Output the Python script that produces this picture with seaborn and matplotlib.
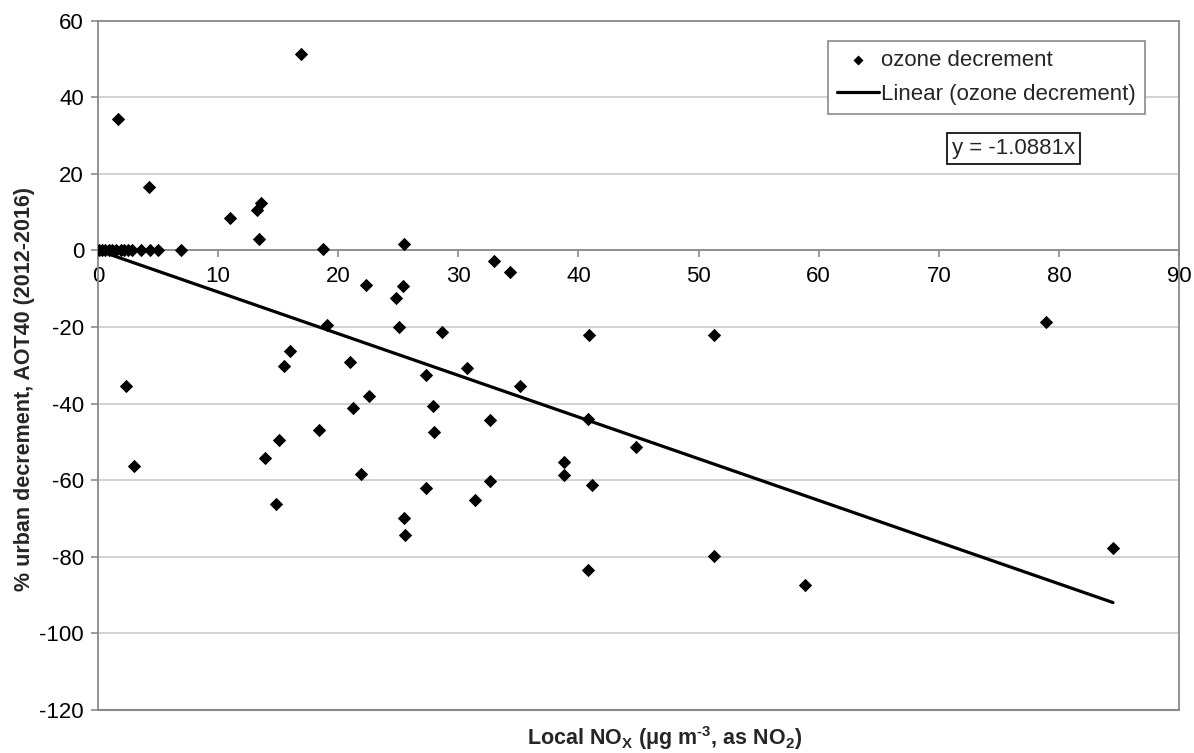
import matplotlib
matplotlib.use("Agg")
import matplotlib.pyplot as plt
import seaborn as sns
import pandas as pd

# Data
nox = [0.1, 0.3, 0.6, 0.9, 1.2, 1.5, 1.9, 2.2, 2.5, 2.8, 3.6, 4.3, 5.0, 6.9,
       1.7, 4.25, 2.3, 3.0, 11.0, 13.2, 13.6, 13.4, 16.9, 18.7, 25.5, 33.0,
       34.3, 22.3, 25.4, 24.8, 19.1, 25.1, 28.6, 40.9, 16.0, 15.5, 21.0, 22.6,
       21.2, 27.3, 27.9, 28.0, 30.7, 35.1, 32.6, 40.8, 18.4, 15.1, 13.9, 21.9,
       38.8, 38.8, 41.1, 32.6, 27.3, 31.4, 14.8, 25.5, 25.6, 40.8, 44.8, 51.3,
       51.3, 58.9, 78.9, 84.5]
decrement = [0, 0, 0, 0, 0, 0, 0, 0, 0, 0, 0, 0, 0, 0,
             34.3, 16.6, -35.3, -56.4, 8.5, 10.6, 12.3, 2.9, 51.2, 0.3, 1.7, -2.9,
             -5.7, -9.1, -9.3, -12.5, -19.6, -20.0, -21.3, -22.0, -26.4, -30.3, -29.1, -38.0,
             -41.2, -32.6, -40.6, -47.4, -30.6, -35.3, -44.3, -44.0, -46.8, -49.5, -54.1, -58.5,
             -55.2, -58.7, -61.2, -60.3, -62.0, -65.2, -66.2, -69.8, -74.2, -83.4, -51.4, -79.7,
             -22.0, -87.3, -18.7, -77.6]
slope = -1.0881
x_ticks = list(range(0, 91, 10))
y_ticks = list(range(-120, 61, 20))

sns.set_theme(style="white")
plt.rcParams["font.family"] = ["Liberation Sans", "DejaVu Sans"]
plt.rcParams["axes.unicode_minus"] = False
plt.rcParams["mathtext.fontset"] = "custom"
plt.rcParams["mathtext.rm"] = "Liberation Sans:bold"
plt.rcParams["mathtext.default"] = "rm"

FRAME = "#8a8a8a"
GRID = "#cfcfcf"

df = pd.DataFrame({"nox": nox, "decrement": decrement})
trend = pd.DataFrame({"nox": [0, max(nox)]})
trend["decrement"] = slope * trend["nox"]

fig = plt.figure(figsize=(11.94, 7.53), dpi=100)
ax = fig.add_axes([98 / 1194, 1 - 710 / 753, 1081 / 1194, 689.5 / 753])

sns.lineplot(data=trend, x="nox", y="decrement", color="black", linewidth=2.3,
             label="Linear (ozone decrement)", ax=ax, zorder=3)
sns.scatterplot(data=df, x="nox", y="decrement", marker="D", s=46, color="black",
                edgecolor="black", linewidth=0, label="ozone decrement", ax=ax, zorder=4)

ax.set_xlim(0, 90)
ax.set_ylim(-120, 60)
ax.set_xticks(x_ticks)
ax.set_yticks(y_ticks)
ax.yaxis.grid(True, color=GRID, linewidth=1.3)
ax.set_axisbelow(True)

# x axis sits at y = 0, frame around the plot area
ax.spines["bottom"].set_position(("data", 0))
for side in ["bottom", "left", "top", "right"]:
    ax.spines[side].set_color(FRAME)
    ax.spines[side].set_linewidth(1.3)
ax.axhline(-120, color=FRAME, linewidth=1.5, zorder=5, clip_on=False)

ax.tick_params(axis="both", which="both", direction="out", length=5, width=1.2,
               color=FRAME, labelsize=16, labelcolor="black")
ax.tick_params(axis="x", pad=6, bottom=True)
ax.tick_params(axis="y", pad=5, left=True)

ax.set_xlabel(r"Local NO$_{\mathrm{X}}$ (μg m$^{\text{-3}}$, as NO$_{2}$)", fontsize=15.5,
              fontweight="bold", va="center")
ax.xaxis.set_label_coords(0.524, -0.040)
ax.set_ylabel("% urban decrement, AOT40 (2012-2016)", fontsize=15.5, fontweight="bold")
ax.yaxis.set_label_coords(-0.058, 0.465)

handles, labels = ax.get_legend_handles_labels()
order = [labels.index("ozone decrement"), labels.index("Linear (ozone decrement)")]
leg = ax.legend([handles[i] for i in order], [labels[i] for i in order],
                loc="upper right", bbox_to_anchor=(0.9685, 0.970), fontsize=16,
                frameon=True, fancybox=False, edgecolor=FRAME, framealpha=1,
                handlelength=1.9, handletextpad=0.1, borderpad=0.4,
                labelspacing=0.58, markerscale=0.75, borderaxespad=0)
leg.get_frame().set_linewidth(1.2)

ax.text(0.790, 0.814, "y = -1.0881x", transform=ax.transAxes, fontsize=16,
        va="center", ha="left",
        bbox=dict(boxstyle="square,pad=0.22", facecolor="white", edgecolor="black", linewidth=1.2))

fig.savefig("out.png", dpi=100)
